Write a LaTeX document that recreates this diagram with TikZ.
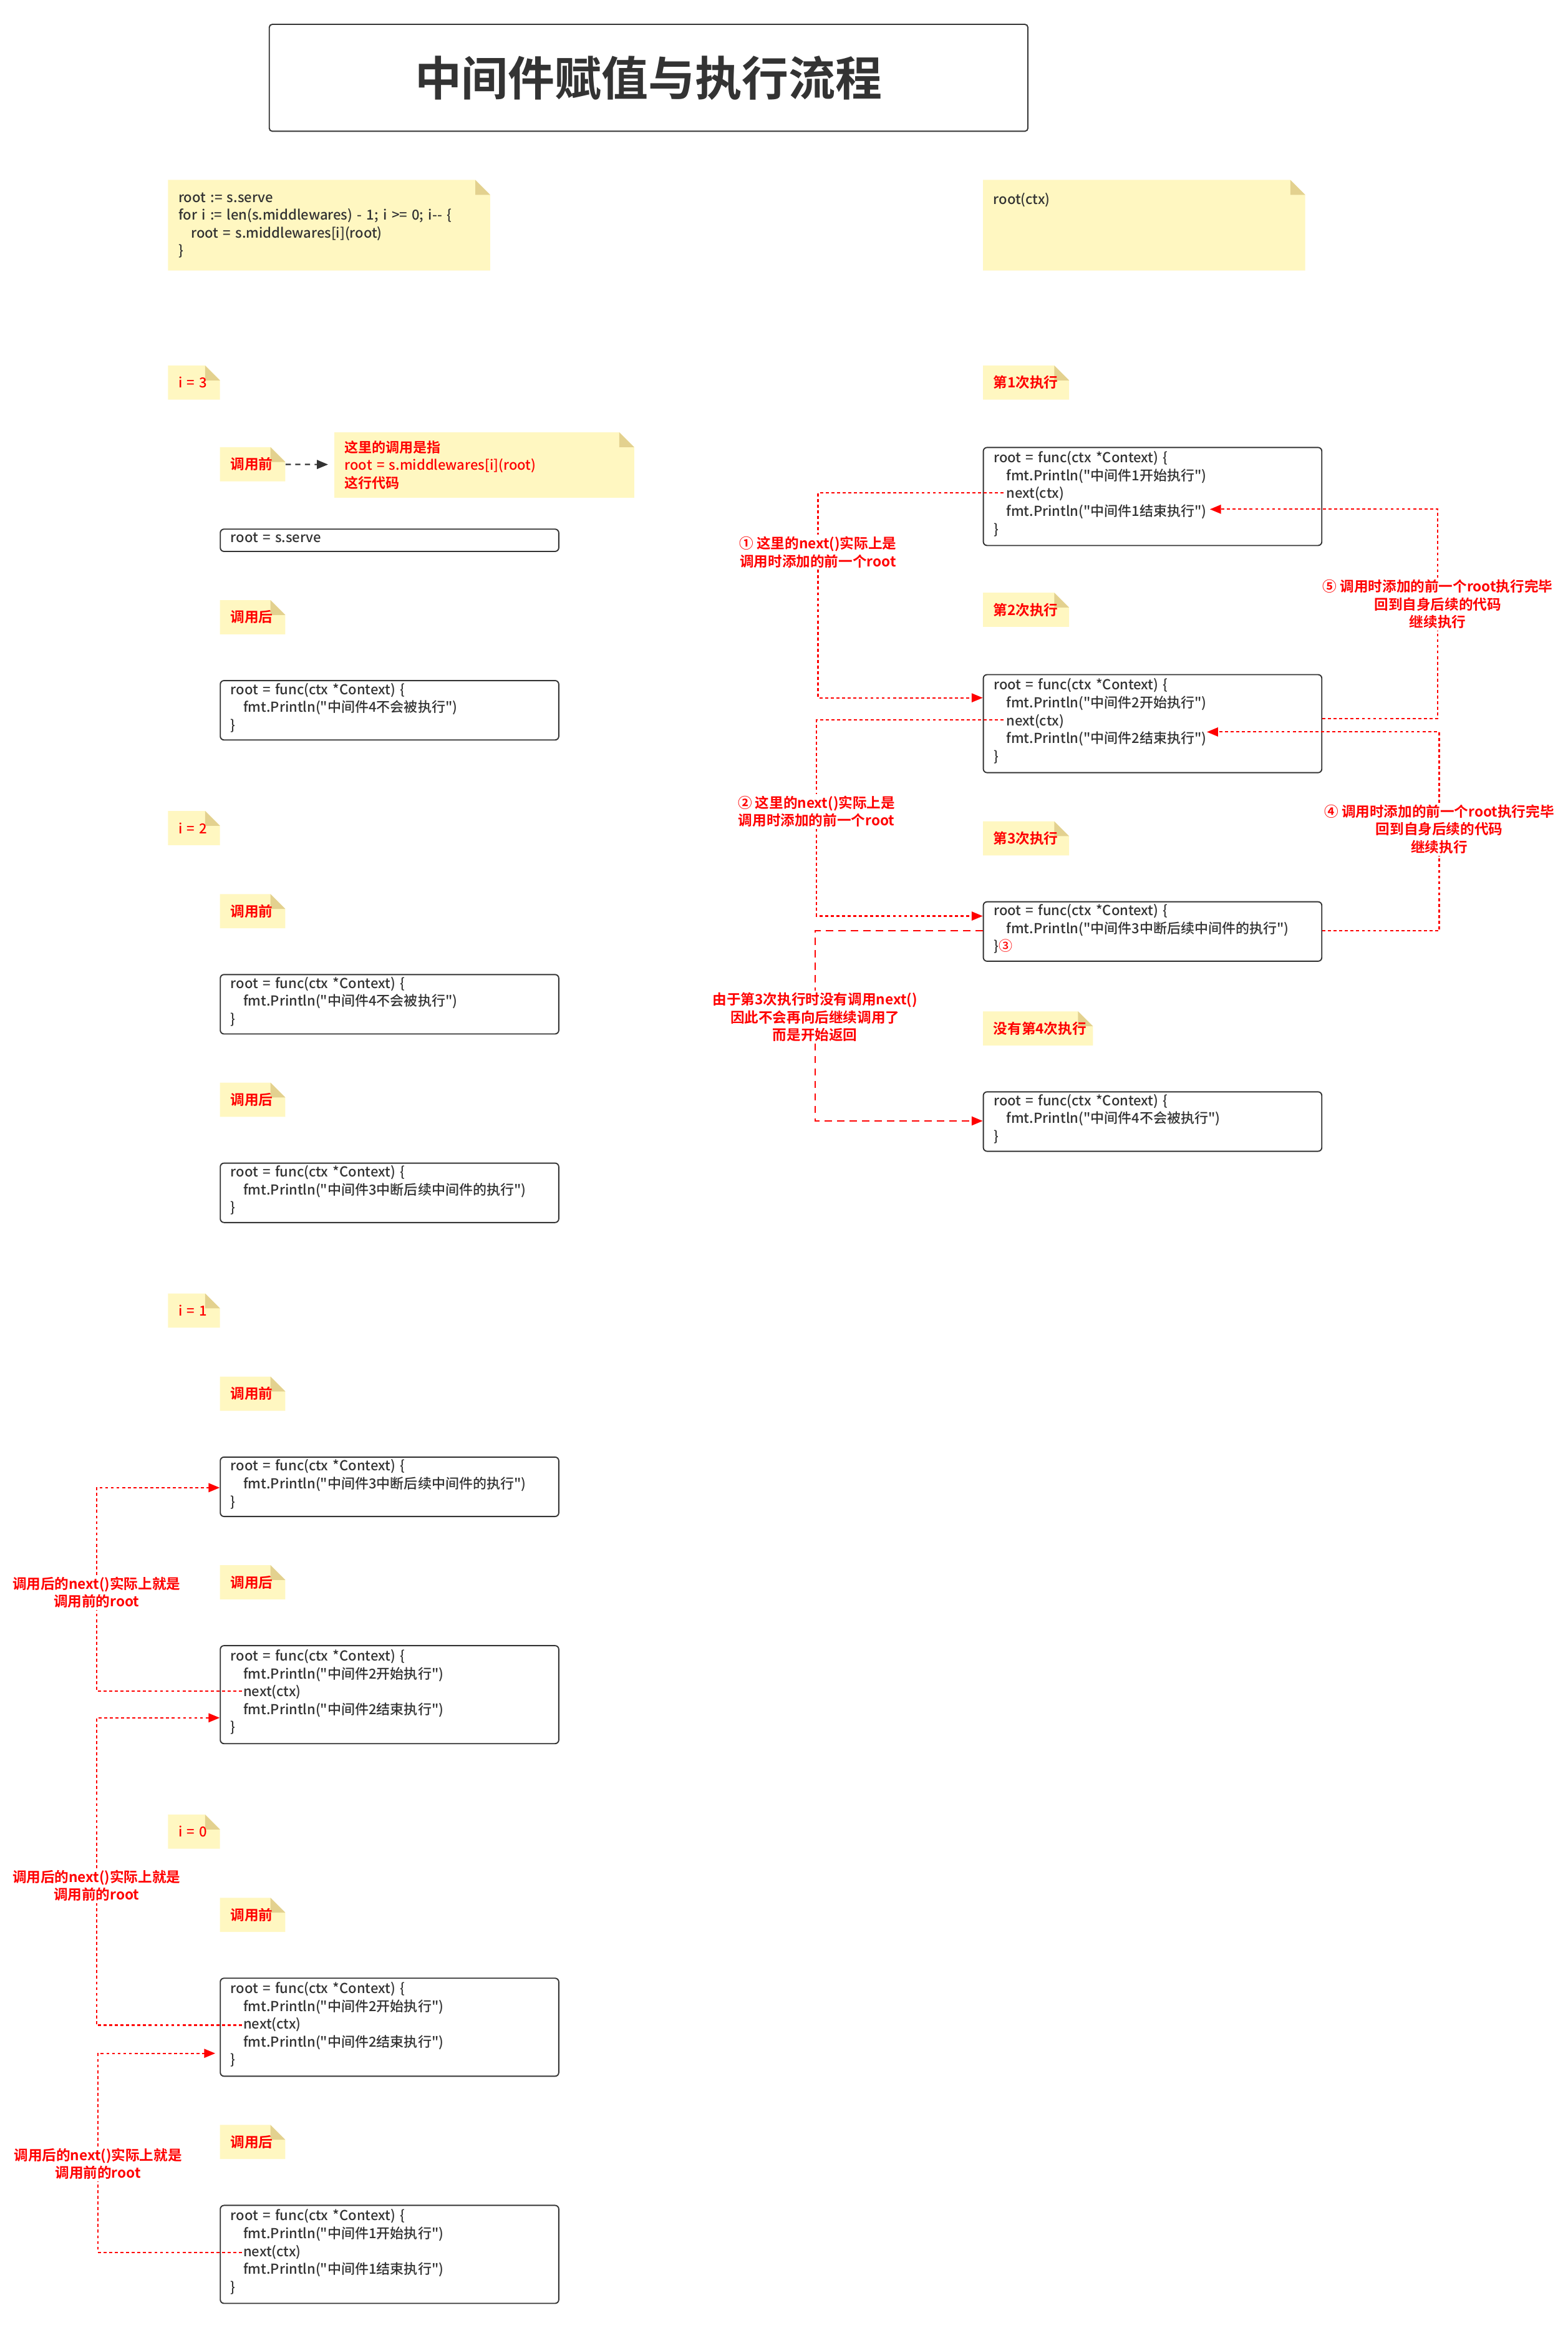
\documentclass[tikz,border=0pt]{standalone}
\usepackage{fontspec}
\setmainfont{Noto Sans CJK SC}[UprightFont={* Medium}, BoldFont={* Bold}, Ligatures=TeXOff]
\usetikzlibrary{arrows.meta}
\definecolor{inkgray}{HTML}{333333}
\definecolor{notefill}{HTML}{FFF7C1}
\definecolor{notefold}{HTML}{E3D18F}
\definecolor{flowred}{HTML}{FF0000}
\newcommand{\ind}{\hspace*{8.5pt}}

\begin{document}
\begin{tikzpicture}[x=1pt, y=-1pt]
\tikzset{
  every node/.style={text=inkgray, font=\fontsize{9.25}{12}\selectfont},
  title box/.style={draw=inkgray, line width=0.8pt, rounded corners=2pt, anchor=north west,
    minimum width=511pt, minimum height=72pt, font=\fontsize{31.5}{36}\selectfont\bfseries},
  code box/.style={draw=inkgray, line width=0.8pt, rounded corners=2.5pt, anchor=north west,
    text width=214pt, inner xsep=7pt, inner ysep=0pt, align=left, minimum height=#1,
    execute at end node={\par\vspace*{3.5pt}}},
  code box/.default=40pt,
  note/.style 2 args={anchor=north west, fill=white, inner xsep=7pt, inner ysep=0pt,
    text width=#1pt-14pt, minimum height=#2pt, align=left,
    path picture={
      \fill[notefill] (path picture bounding box.south west) -- (path picture bounding box.north west)
        -- ([xshift=-10pt]path picture bounding box.north east) -- ([yshift=-10pt]path picture bounding box.north east)
        -- (path picture bounding box.south east) -- cycle;
      \fill[notefold] ([xshift=-10pt]path picture bounding box.north east)
        -- ([xshift=-10pt,yshift=-10pt]path picture bounding box.north east)
        -- ([yshift=-10pt]path picture bounding box.north east) -- cycle;
    }},
  tag note/.style={text=flowred, font=\fontsize{9.5}{12}\selectfont\bfseries},
  count note/.style={text=flowred},
  hint note/.style={text=flowred},
  flow label/.style={text=flowred, font=\fontsize{9.5}{12}\selectfont\bfseries, align=center,
    fill=white, inner sep=1pt},
  dotted flow/.style={draw=flowred, line width=0.9pt, dash pattern=on 2pt off 1.8pt},
  dashed flow/.style={draw=flowred, line width=0.9pt, dash pattern=on 5pt off 3.4pt},
  gray flow/.style={draw=inkgray, line width=0.9pt, dash pattern=on 3.5pt off 3pt},
  flow tip/.style={-{Triangle[length=7.5pt,width=6pt]}},
}
\useasboundingbox (0,0) rectangle (1056,1568);

\node[title box] (title) at (181,16) {中间件赋值与执行流程};

\node[note={217}{61}] (loop) at (113,121) {root := s.serve\\for i := len(s.middlewares) - 1; i >= 0; i-{}- \{\\\ind root = s.middlewares[i](root)\\\}};
\node[note={217}{61}] (call) at (662,121) {root(ctx)\\\mbox{}\\\mbox{}\\\mbox{}};

% left column: building root
\node[note={35}{23}, count note] (i3) at (113,246) {i = 3};
\node[note={44}{23}, tag note] (pre3) at (148,301) {调用前};
\node[note={202}{44}, hint note] (hint) at (225,291) {{\bfseries 这里的调用是指}\\root = s.middlewares[i](root)\\{\bfseries 这行代码}};
\node[code box=15pt] (b1) at (148,356) {root = s.serve};
\node[note={44}{23}, tag note] (post3) at (148,404) {调用后};
\node[code box] (b2) at (148,458) {root = func(ctx *Context) \{\\\ind fmt.Println("中间件4不会被执行")\\\}};

\node[note={35}{23}, count note] (i2) at (113,546) {i = 2};
\node[note={44}{23}, tag note] (pre2) at (148,602) {调用前};
\node[code box] (b3) at (148,656) {root = func(ctx *Context) \{\\\ind fmt.Println("中间件4不会被执行")\\\}};
\node[note={44}{23}, tag note] (post2) at (148,729) {调用后};
\node[code box] (b4) at (148,783) {root = func(ctx *Context) \{\\\ind fmt.Println("中间件3中断后续中间件的执行")\\\}};

\node[note={35}{23}, count note] (i1) at (113,871) {i = 1};
\node[note={44}{23}, tag note] (pre1) at (148,927) {调用前};
\node[code box] (b5) at (148,981) {root = func(ctx *Context) \{\\\ind fmt.Println("中间件3中断后续中间件的执行")\\\}};
\node[note={44}{23}, tag note] (post1) at (148,1054) {调用后};
\node[code box=66pt] (b6) at (148,1108) {root = func(ctx *Context) \{\\\ind fmt.Println("中间件2开始执行")\\\ind next(ctx)\\\ind fmt.Println("中间件2结束执行")\\\}};

\node[note={35}{23}, count note] (i0) at (113,1222) {i = 0};
\node[note={44}{23}, tag note] (pre0) at (148,1278) {调用前};
\node[code box=66pt] (b7) at (148,1332) {root = func(ctx *Context) \{\\\ind fmt.Println("中间件2开始执行")\\\ind next(ctx)\\\ind fmt.Println("中间件2结束执行")\\\}};
\node[note={44}{23}, tag note] (post0) at (148,1431) {调用后};
\node[code box=66pt] (b8) at (148,1485) {root = func(ctx *Context) \{\\\ind fmt.Println("中间件1开始执行")\\\ind next(ctx)\\\ind fmt.Println("中间件1结束执行")\\\}};

% right column: running root(ctx)
\node[note={58}{23}, tag note] (run1) at (662,246) {第1次执行};
\node[code box=66pt] (r1) at (662,301) {root = func(ctx *Context) \{\\\ind fmt.Println("中间件1开始执行")\\\ind next(ctx)\\\ind fmt.Println("中间件1结束执行")\\\}};
\node[note={58}{23}, tag note] (run2) at (662,399) {第2次执行};
\node[code box=66pt] (r2) at (662,454) {root = func(ctx *Context) \{\\\ind fmt.Println("中间件2开始执行")\\\ind next(ctx)\\\ind fmt.Println("中间件2结束执行")\\\}};
\node[note={58}{23}, tag note] (run3) at (662,553) {第3次执行};
\node[code box] (r3) at (662,607) {root = func(ctx *Context) \{\\\ind fmt.Println("中间件3中断后续中间件的执行")\\\}\textcolor{flowred}{③}};
\node[note={74}{23}, tag note] (run4) at (662,681) {没有第4次执行};
\node[code box] (r4) at (662,735) {root = func(ctx *Context) \{\\\ind fmt.Println("中间件4不会被执行")\\\}};

% connector ends
\coordinate (b6next) at ([xshift=15pt,yshift=-31pt]b6.north west);
\coordinate (b5in) at ([yshift=-21pt]b5.north west);
\coordinate (b7next) at ([xshift=15pt,yshift=-32pt]b7.north west);
\coordinate (b6in) at ([yshift=-49pt]b6.north west);
\coordinate (b8next) at ([xshift=15pt,yshift=-32pt]b8.north west);
\coordinate (b7in) at ([xshift=-3pt,yshift=-51pt]b7.north west);
\coordinate (r1next) at ([xshift=14pt,yshift=-31pt]r1.north west);
\coordinate (r2in) at ([yshift=-16pt]r2.north west);
\coordinate (r2next) at ([xshift=14pt,yshift=-31pt]r2.north west);
\coordinate (r3in) at ([yshift=-10pt]r3.north west);
\coordinate (r3out) at ([yshift=-20pt]r3.north west);
\coordinate (r4in) at ([yshift=-20pt]r4.north west);
\coordinate (r3back) at ([yshift=-20pt]r3.north east);
\coordinate (r2end) at ([xshift=151pt,yshift=-39pt]r2.north west);
\coordinate (r2back) at ([yshift=-30pt]r2.north east);
\coordinate (r1end) at ([xshift=153pt,yshift=-42pt]r1.north west);

% labels on the connectors
\node[flow label] (la) at (65,1072.5) {调用后的next()实际上就是\\调用前的root};
\node[flow label] (lb) at (65,1270) {调用后的next()实际上就是\\调用前的root};
\node[flow label] (lc) at (66,1457.5) {调用后的next()实际上就是\\调用前的root};
\node[flow label] (l1) at (551,372) {① 这里的next()实际上是\\调用时添加的前一个root};
\node[flow label] (l2) at (550,546.5) {② 这里的next()实际上是\\调用时添加的前一个root};
\node[flow label] (l3) at (549,685) {由于第3次执行时没有调用next()\\因此不会再向后继续调用了\\而是开始返回};
\node[flow label] (l4) at (969.5,558.5) {④ 调用时添加的前一个root执行完毕\\回到自身后续的代码\\继续执行};
\node[flow label] (l5) at (968.5,407) {⑤ 调用时添加的前一个root执行完毕\\回到自身后续的代码\\继续执行};

\draw[gray flow, flow tip, shorten >=4pt] (pre3) -- (hint);

\draw[dotted flow] (b6next) -| (la.south);
\draw[dotted flow, flow tip] (la.north) |- (b5in);
\draw[dotted flow] (b7next) -| (lb.south);
\draw[dotted flow, flow tip] (lb.north) |- (b6in);
\draw[dotted flow] (b8next) -| (lc.south);
\draw[dotted flow, flow tip] (lc.north) |- (b7in);

\draw[dotted flow] (r1next) -| (l1.north);
\draw[dotted flow, flow tip] (l1.south) |- (r2in);
\draw[dotted flow] (r2next) -| (l2.north);
\draw[dotted flow, flow tip] (l2.south) |- (r3in);
\draw[dashed flow] (r3out) -| (l3.north);
\draw[dashed flow, flow tip] (l3.south) |- (r4in);
\draw[dotted flow] (r3back) -| (l4.south);
\draw[dotted flow, flow tip] (l4.north) |- (r2end);
\draw[dotted flow] (r2back) -| (l5.south);
\draw[dotted flow, flow tip] (l5.north) |- (r1end);
\end{tikzpicture}
\end{document}
